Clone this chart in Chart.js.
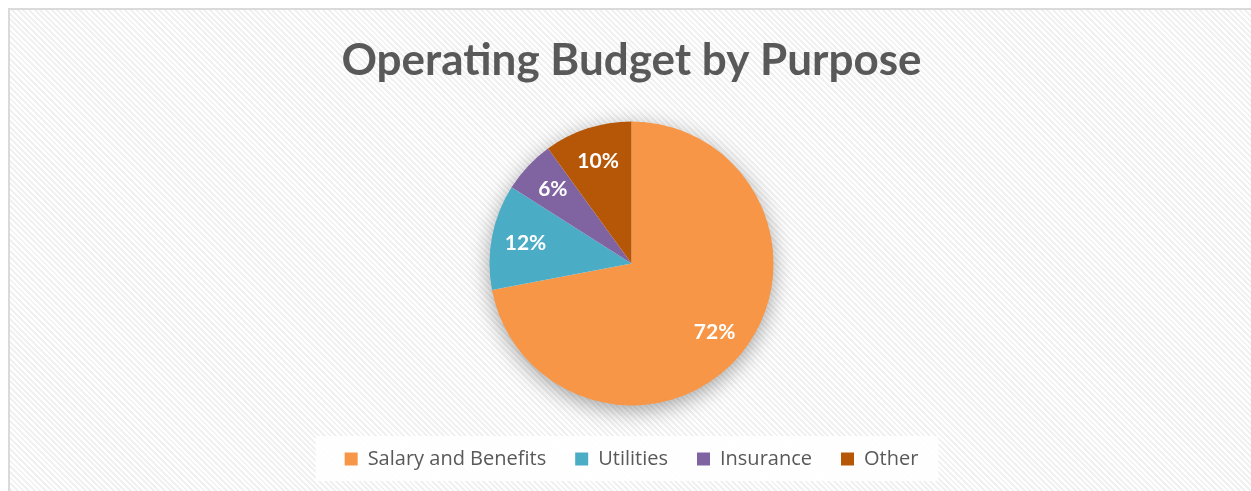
<!DOCTYPE html>
<html>
<head>
<meta charset="utf-8">
<script src="https://cdn.jsdelivr.net/npm/chart.js@4"></script>
<style>
  html, body { margin: 0; padding: 0; background: #fff; overflow: hidden; }
  #frame {
    position: absolute; left: 8px; top: 8px; width: 1260px; height: 500px;
    border: 2px solid #dadada;
    background: repeating-linear-gradient(45deg, #ffffff 0px, #ffffff 2px, #f1f1f1 2px, #f1f1f1 4px);
  }
  #wrap { position: absolute; left: 0; top: 0; width: 1251px; height: 491px; }
</style>
</head>
<body>
<div id="frame"></div>
<div id="wrap"><canvas id="budget-chart"></canvas></div>
<script>
// --- data ---
const purposes = ['Salary and Benefits', 'Utilities', 'Insurance', 'Other'];
const shares = [72, 12, 6, 10];
const sliceColors = ['#F79646', '#4BACC6', '#8064A2', '#B65708'];

const FONT = 'Lato, "Open Sans", sans-serif';
const LEGEND_FONT = '"Open Sans", Lato, sans-serif';

// soft shadow behind the pie
const pieShadow = {
  id: 'pieShadow',
  beforeDatasetsDraw(chart) {
    const arc = chart.getDatasetMeta(0).data[0];
    if (!arc) return;
    const ctx = chart.ctx;
    ctx.save();
    ctx.shadowColor = 'rgba(0,0,0,0.38)';
    ctx.shadowBlur = 22;
    ctx.shadowOffsetY = 5;
    ctx.fillStyle = '#ffffff';
    ctx.beginPath();
    ctx.arc(arc.x, arc.y, arc.outerRadius - 1, 0, Math.PI * 2);
    ctx.fill();
    ctx.restore();
  }
};

// percentage labels inside the slices
const sliceLabels = {
  id: 'sliceLabels',
  afterDatasetsDraw(chart) {
    const ctx = chart.ctx;
    const meta = chart.getDatasetMeta(0);
    ctx.save();
    ctx.fillStyle = '#ffffff';
    ctx.font = 'bold 21px ' + FONT;
    ctx.textAlign = 'center';
    ctx.textBaseline = 'middle';
    meta.data.forEach((arc, i) => {
      const mid = (arc.startAngle + arc.endAngle) / 2;
      const r = arc.outerRadius * 0.76;
      ctx.fillText(shares[i] + '%', arc.x + Math.cos(mid) * r, arc.y + Math.sin(mid) * r);
    });
    ctx.restore();
  }
};

// white panel behind the legend
const legendPanel = {
  id: 'legendPanel',
  beforeDraw(chart) {
    const boxes = chart.legend && chart.legend.legendHitBoxes;
    if (!boxes || !boxes.length) return;
    const left = Math.min(...boxes.map(b => b.left)) - 29;
    const right = Math.max(...boxes.map(b => b.left + b.width)) + 20;
    const top = boxes[0].top + boxes[0].height / 2 - 23;
    const ctx = chart.ctx;
    ctx.save();
    ctx.fillStyle = 'rgba(255,255,255,0.92)';
    ctx.fillRect(left, top, right - left, 45);
    ctx.restore();
  }
};

new Chart(document.getElementById('budget-chart'), {
  type: 'pie',
  data: {
    labels: purposes,
    datasets: [{
      data: shares,
      backgroundColor: sliceColors,
      borderWidth: 0,
      radius: 142
    }]
  },
  options: {
    responsive: true,
    maintainAspectRatio: false,
    animation: false,
    layout: { padding: { left: 12, top: 0, bottom: 12 } },
    plugins: {
      title: {
        display: true,
        text: 'Operating Budget by Purpose',
        color: '#595959',
        font: { family: FONT, size: 44, weight: 'bold' },
        padding: { top: 34, bottom: 20 }
      },
      legend: {
        position: 'bottom',
        labels: {
          color: '#595959',
          font: { family: LEGEND_FONT, size: 20 },
          boxWidth: 13,
          boxHeight: 13,
          padding: 29
        }
      },
      tooltip: { enabled: false }
    }
  },
  plugins: [pieShadow, sliceLabels, legendPanel]
});
</script>
</body>
</html>
